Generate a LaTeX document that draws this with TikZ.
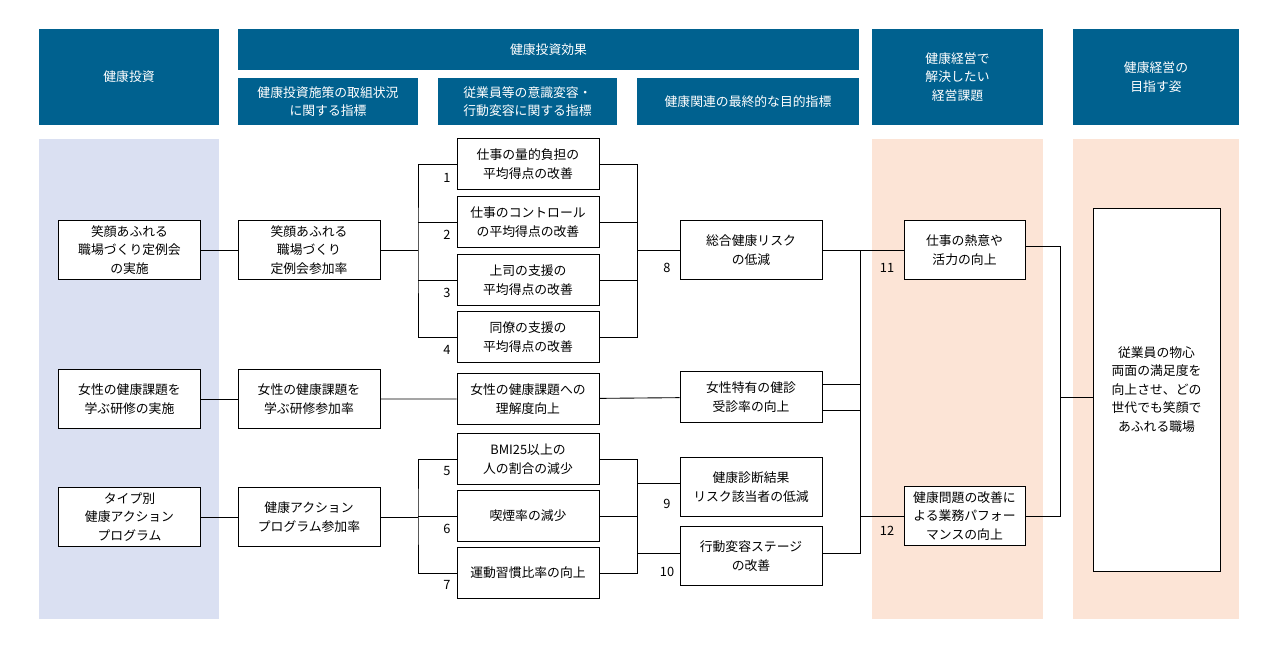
\documentclass[tikz,border=0pt]{standalone}
\usepackage{fontspec}
\setmainfont{Noto Sans CJK JP}
\usetikzlibrary{calc}
\definecolor{hdblue}{HTML}{00618F}
\definecolor{colblue}{HTML}{DAE0F2}
\definecolor{colpeach}{HTML}{FCE4D6}
\tikzset{
  hd/.style={fill=hdblue, text=white, align=center, inner sep=0pt, font=\fontsize{7.3}{10.5}\selectfont},
  box/.style={draw, fill=white, align=center, inner sep=0pt, minimum width=2.84cm, minimum height=1.18cm, font=\fontsize{7.3}{10.5}\selectfont},
  sbox/.style={box, minimum height=1.02cm},
  num/.style={font=\fontsize{7.3}{9}\selectfont, inner sep=0pt}
}
\begin{document}
\begin{tikzpicture}[x=0.02cm, y=-0.02cm, line width=0.5pt]
		%%%%% BACKGROUND %%%%%
		\useasboundingbox (0,0) rectangle (1280,650);
		\fill[white] (0,0) rectangle (1280,650);
		\fill[colblue] (39,139) rectangle (219,619);
		\fill[colpeach] (872,139) rectangle (1043,619);
		\fill[colpeach] (1073,139) rectangle (1239,619);
		
		%%%%% HEADERS %%%%%
		\node[hd, minimum width=3.6cm, minimum height=1.92cm] (h1) at (129,77) {健康投資};
		\node[hd, minimum width=12.42cm, minimum height=0.82cm] (h2) at (548.5,49.5) {健康投資効果};
		\node[hd, minimum width=3.6cm, minimum height=0.94cm] (h2a) at (328,101.5) {健康投資施策の取組状況\\に関する指標};
		\node[hd, minimum width=3.58cm, minimum height=0.94cm] (h2b) at (527.5,101.5) {従業員等の意識変容・\\行動変容に関する指標};
		\node[hd, minimum width=4.44cm, minimum height=0.94cm] (h2c) at (748,101.5) {健康関連の最終的な目的指標};
		\node[hd, minimum width=3.42cm, minimum height=1.92cm] (h3) at (957.5,77) {健康経営で\\解決したい\\経営課題};
		\node[hd, minimum width=3.32cm, minimum height=1.92cm] (h4) at (1156,77) {健康経営の\\目指す姿};
		
		%%%%% BOXES %%%%%
		\node[box] (A1) at (129.5,250) {笑顔あふれる\\職場づくり定例会\\の実施};
		\node[box] (A2) at (129.5,399) {女性の健康課題を\\学ぶ研修の実施};
		\node[box] (A3) at (129.5,517) {タイプ別\\健康アクション\\プログラム};
		\node[box] (B1) at (309,250) {笑顔あふれる\\職場づくり\\定例会参加率};
		\node[box] (B2) at (309,399) {女性の健康課題を\\学ぶ研修参加率};
		\node[box] (B3) at (309,517) {健康アクション\\プログラム参加率};
		\node[sbox] (C1) at (528,164) {仕事の量的負担の\\平均得点の改善};
		\node[sbox] (C2) at (528,222) {仕事のコントロール\\の平均得点の改善};
		\node[sbox] (C3) at (528,280) {上司の支援の\\平均得点の改善};
		\node[sbox] (C4) at (528,337) {同僚の支援の\\平均得点の改善};
		\node[sbox] (C5) at (528,399) {女性の健康課題への\\理解度向上};
		\node[sbox] (C6) at (528,459) {BMI25以上の\\人の割合の減少};
		\node[sbox] (C7) at (528,516) {喫煙率の減少};
		\node[sbox] (C8) at (528,573) {運動習慣比率の向上};
		\node[box] (D1) at (751,250) {総合健康リスク\\の低減};
		\node[box, minimum height=1.02cm] (D2) at (751,397) {女性特有の健診\\受診率の向上};
		\node[box] (D3) at (751,487) {健康診断結果\\リスク該当者の低減};
		\node[box] (D4) at (751,556) {行動変容ステージ\\の改善};
		\node[box, minimum width=2.42cm] (E1) at (964.5,250) {仕事の熱意や\\活力の向上};
		\node[box, minimum width=2.42cm] (E2) at (964.5,516) {健康問題の改善に\\よる業務パフォー\\マンスの向上};
		\node[box, minimum width=2.54cm, minimum height=7.26cm] (F) at (1156.5,389.5) {従業員の物心\\両面の満足度を\\向上させ、どの\\世代でも笑顔で\\あふれる職場};
		
		%%%%% NUMBERS %%%%%
		\node[num] (n1) at (447,178) {1};
		\node[num] (n2) at (447,235) {2};
		\node[num] (n3) at (447,293) {3};
		\node[num] (n4) at (447,350) {4};
		\node[num] (n5) at (447,471) {5};
		\node[num] (n6) at (447,529) {6};
		\node[num] (n7) at (447,585) {7};
		\node[num] (n8) at (667,268) {8};
		\node[num] (n9) at (667,504) {9};
		\node[num] (n10) at (667,572) {10};
		\node[num] (n11) at (887,268) {11};
		\node[num] (n12) at (887,531) {12};
		
		%%%%% CONNECTORS %%%%%
		\coordinate (busB1) at (418,250);
		\coordinate (busB3) at (418,517);
		\coordinate (busC1) at (637,250);
		\coordinate (busC6) at (637,483);
		\coordinate (busD1) at (860,250);
		\coordinate (busD2) at (860,516);
		\coordinate (busE) at (1060,397);
		
		\draw (A1) -- (B1);
		\draw (A2) -- (B2);
		\draw (A3) -- (B3);
		
		\draw (B1) -- (busB1);
		\draw (C1.west) -| (busB1) |- (C4.west);
		\draw (C2.west) -- (C2.west -| busB1);
		\draw (C3.west) -- (C3.west -| busB1);
		\draw (C1.east) -| (busC1) |- (C4.east);
		\draw (C2.east) -- (C2.east -| busC1);
		\draw (C3.east) -- (C3.east -| busC1);
		\draw (busC1) -- (D1);
		
		\draw (B2) -- (C5) -- (D2);
		
		\draw (B3) -- (busB3);
		\draw (C6.west) -| (busB3) |- (C8.west);
		\draw (C7.west) -- (C7.west -| busB3);
		\draw (C6.east) -| (busC6) |- (C8.east);
		\draw (C7.east) -- (C7.east -| busC6);
		\draw (busC6) -- (D3.west |- busC6);
		\draw (D4.west |- 0,553) -- (busC6 |- 0,553);
		
		\draw (D1) -- (E1);
		\draw ($(D2.east)+(0,13)$) -| (busD1);
		\draw ($(D2.east)+(0,-13)$) -| (busD2) |- ($(D4.east)+(0,-3)$);
		\draw ($(D3.east)+(0,-4)$) -- ($(D3.east)+(0,-4)$ -| busD2);
		\draw (busD2) -- (E2);
		
		\draw ($(E1.east)+(0,-4)$) -| (busE) |- (E2.east);
		\draw (busE) -- (F.west |- busE);
\end{tikzpicture}
\end{document}
